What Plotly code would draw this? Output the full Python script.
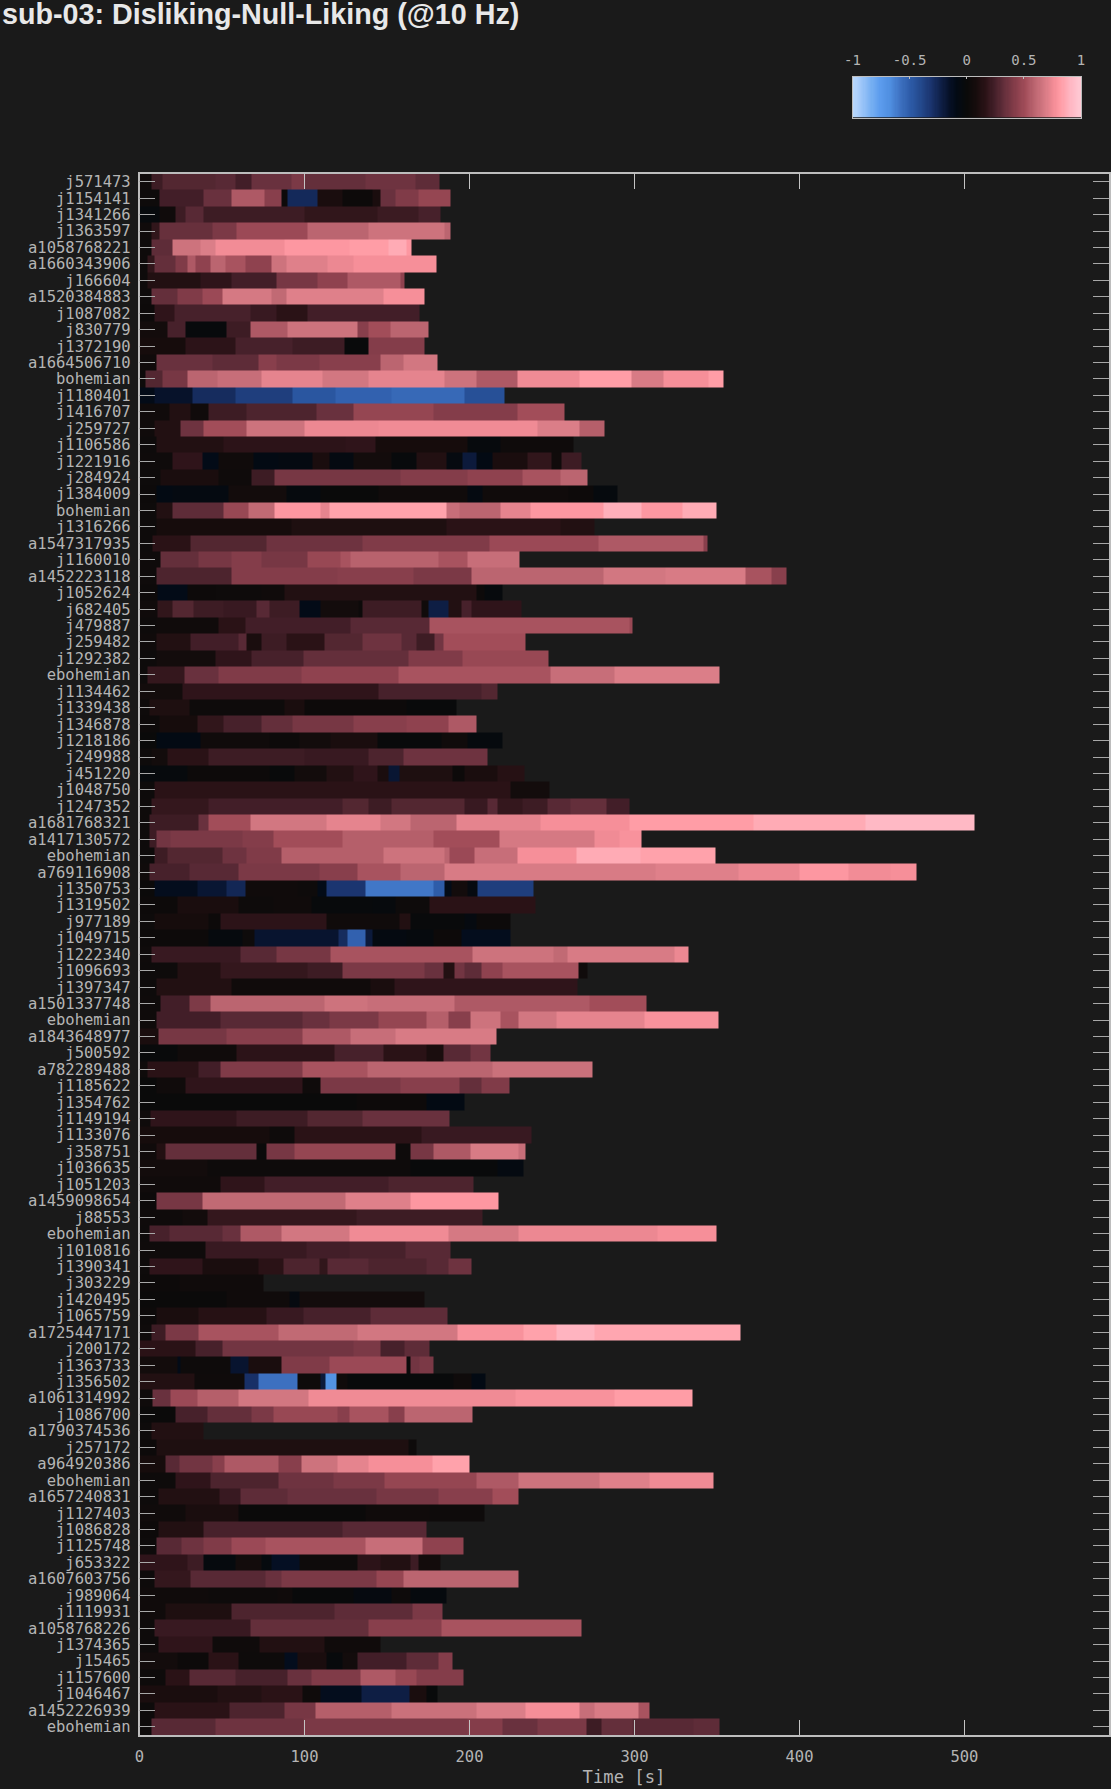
import numpy as np
import plotly.graph_objects as go

song_labels = """j571473 j1154141 j1341266 j1363597 a1058768221 a1660343906 j166604 a1520384883 j1087082 j830779 j1372190 a1664506710 bohemian j1180401 j1416707 j259727 j1106586 j1221916 j284924 j1384009 bohemian j1316266 a1547317935 j1160010 a1452223118 j1052624 j682405 j479887 j259482 j1292382 ebohemian j1134462 j1339438 j1346878 j1218186 j249988 j451220 j1048750 j1247352 a1681768321 a1417130572 ebohemian a769116908 j1350753 j1319502 j977189 j1049715 j1222340 j1096693 j1397347 a1501337748 ebohemian a1843648977 j500592 a782289488 j1185622 j1354762 j1149194 j1133076 j358751 j1036635 j1051203 a1459098654 j88553 ebohemian j1010816 j1390341 j303229 j1420495 j1065759 a1725447171 j200172 j1363733 j1356502 a1061314992 j1086700 a1790374536 j257172 a964920386 ebohemian a1657240831 j1127403 j1086828 j1125748 j653322 a1607603756 j989064 j1119931 a1058768226 j1374365 j15465 j1157600 j1046467 a1452226939 ebohemian""".split()

# Segment end times [s] for each song, top row first
segment_ends = [
 [7,14,46,58,68,92,100,137,167,182],
 [12,39,56,76,86,90,108,123,141,146,155,169,188.5],
 [12,22,28,39,100,144,169,182.5],
 [7,12,44,59,102,139,185,188.6],
 [7,20,37,46,88,127,151,162,165],
 [5,9,22,29,34,43,52,64,80,89,114,130,180],
 [5,37,56,83,108,126,158,160.8],
 [7,23,38,50,80,89,148,173],
 [9,21,67,83,102,169.6],
 [17,28,53,67,90,132,139,152,175],
 [28,58,93,124,139,172.6],
 [10,44,72,83,109,146,160,180.5],
 [3.5,14,29,47.5,74,111,139,185,204,229,266.5,298,317.5,345,354],
 [9,32,58,93,119,153,197,221],
 [18,31,42,65,107,130,178,229,257.7],
 [9,25,39,65,100,145,241,266.5,282],
 [10,51,125,143,199,219,263],
 [20,38,48,69,84,105,115,130,153,168,186,196,204,214,235,250,256,268],
 [13,48,68,82,158,199,232,255,271.4],
 [10,20,54,89,110,145,199,208,260,275,289.5],
 [10,20,51,66,82,110,115,186,194,219,237,281,304,329,350],
 [10,92,186,255,276],
 [8,31,77,135,212,278,342,344],
 [13,36,56,74,102,122,128,181,199,230.6],
 [10,56,120,166,201,281,319,367,383,392],
 [11,29,46,74,88,204,209,220],
 [11,20,33,51,71,79,97,110,133,135,171,175,187.5,195,201.5,231.6],
 [10,48,64,128,175.5,297,299],
 [10,31,60,65,74,89,112,135,159,168,179,184,234],
 [10,46,68,99.5,163,196,248],
 [5,27,48,98,157,249,288,351.5],
 [26,61,145,207,217],
 [6,30,88,100,162,192],
 [12,35,51,74,93,130,162,187,204],
 [10,37,79,97,116,144,183,199,220],
 [7,17,42,100,139,160,211],
 [29,79,94,113.5,130,144,151,157.6,190,197,217,233.6],
 [9,102,225,248.7],
 [7,42,123,139,153,197,211,217,232,247,261,283,297],
 [6,36,42,67,113.5,146,164.5,192,243,297,372,440,506],
 [6,10,18.5,62.5,81,123,178,218,276,291,304.5],
 [9,17,50,65,86,148,185,188,203,229,265,303.6,349],
 [6,30,60,109,132,158,185,313,363,400,430,455,471],
 [9,35,53,64,96,108,113.5,137,178,185,189,199,205,238.7],
 [23,60,81,104,141,155,176,240],
 [9,42,49,113.5,157.6,164.5,197,204,225],
 [42,62.6,69.5,120.5,126,137,141,162,178,195,224.6],
 [7,61,83,116,201.6,251,259.6,324,333],
 [23,49,102,123,173,184,191,197,207,220,266,271.7],
 [10,56,140,154.6,265.5],
 [13,30,43,112,138,191,273,307],
 [10,49,99,115,145,174,187.5,200.6,219,230,253,306,351],
 [11.5,53,99,128,155,216.5],
 [23,59,118,148,174,184,200.6,213],
 [5,36,49,99,138,214,274.7],
 [10,28,99,110,158,194,207,224],
 [131.6,174,197],
 [6.6,59,102,135,187.8],
 [79,94,171,237.5],
 [10,16,71,77,94,155,164,178,200.6,230,234],
 [41,164.5,217,233],
 [49,76,151,202.6],
 [10,38,125,164.5,217.5],
 [26,41,131.6,207.6],
 [6,18,50,61,86,127,187,230,314,350],
 [40,101,127,161,188.7],
 [6,38,72,87.5,109,114,139,174,187,201.4],
 [24,75],
 [53,91,97,173],
 [10,36,77,99.5,140,186.6],
 [7,16,36,84,132,193,232.6,253,276,364],
 [34,50,129.5,146,160.6,176],
 [23,25,55,66,86,115,162,164,170,178],
 [33.6,63.5,72,96,110,113,119.4,126,190.6,201.4,210],
 [8,19,35,60,102.6,228,288,335],
 [21.6,41,68,81.5,120,127,151,160.6,201.7],
 [7,39],
 [10,163,168],
 [15.6,24,44,51.6,84,98,120,139,177.5,200],
 [21.6,43,84,117.5,148.7,204,230,279,309,347.7],
 [11.6,48.7,61,90,143.7,181,214,229.7],
 [28,60,137,176,209],
 [11.6,39,123,173.8],
 [10,25.5,39,55.6,76.5,136.7,171.5,196.3],
 [29,39,58,74,80,97,132,146,164.5,169,182.4],
 [9,31,76.5,86,143.7,160,230],
 [41.7,83.4,92.7,130,153,164.5,186],
 [16,55.6,118,165.7,183.5],
 [9,67,139,183,268],
 [11.6,44,73,112.4,145.8],
 [23,41.7,60,88,96,113.5,123,132,162,181,190],
 [16,30,58,90,104,134,155,168,196.3],
 [47.5,74,98.5,110,134.4,163.4,174,180.8],
 [9,54.5,88,106.6,153,204,234,266.5,276,302.4,309],
 [7,46,99.6,199,220,241,271,280,299,336,351.3],
]

# Rating held during each segment, same shape as segment_ends. These readings were
# taken by eye before the colour ramp was sampled; see reading_scale below.
segment_values = [
 [.05,.2,.28,.3,.22,.36,.44,.34,.38,.32],
 [.03,.22,.36,.62,.5,.02,-.27,.08,.02,.08,.36,.46,.54],
 [-.03,.05,.2,.3,.2,.15,.19,.24],
 [.05,.15,.35,.44,.56,.66,.72,.66],
 [.03,.32,.72,.77,.85,.9,.92,.95,.9],
 [.03,.15,.34,.46,.62,.52,.66,.6,.52,.72,.78,.82,.87],
 [.03,.1,.14,.22,.42,.52,.62,.52],
 [.03,.34,.46,.56,.75,.68,.78,.87],
 [.02,.14,.24,.18,.12,.22],
 [.06,.24,-.02,.2,.62,.72,.5,.58,.66],
 [.07,.13,.24,.2,-.01,.48],
 [.05,.36,.32,.5,.44,.5,.66,.74],
 [.03,.28,.42,.66,.7,.8,.74,.8,.72,.62,.84,.92,.76,.87,.92],
 [-.1,-.16,-.28,-.36,-.47,-.52,-.55,-.44],
 [.05,.1,.05,.2,.26,.36,.54,.48,.58],
 [.05,.1,.38,.58,.72,.82,.84,.77,.64],
 [.03,.1,.13,.14,.07,-.03,.04],
 [.04,.14,-.1,.05,-.08,-.06,.08,-.06,.06,-.02,.1,-.05,-.2,-.08,.08,.15,.05,.2],
 [.03,.08,.04,.2,.42,.48,.52,.6,.66],
 [.02,-.08,-.06,.06,-.04,0,.05,-.06,.05,.02,-.04],
 [.03,.1,.32,.55,.68,.9,.8,.93,.7,.66,.8,.9,.96,.9,.95],
 [.03,.07,.09,.12,.1],
 [.03,.12,.28,.38,.46,.56,.62,.5],
 [.04,.34,.42,.48,.42,.55,.6,.65,.6,.7],
 [.04,.26,.48,.5,.44,.66,.74,.76,.6,.5],
 [.02,-.1,.02,.03,.05,.1,.02,-.03],
 [.05,.15,.28,.2,.18,.3,.2,-.1,.06,.02,.2,.05,-.22,.1,.24,.14],
 [.03,.05,.12,.22,.3,.6,.55],
 [.05,.1,.22,.3,.08,.2,.12,.28,.38,.3,.2,.4,.58],
 [.03,.06,.14,.24,.34,.46,.55],
 [.03,.16,.36,.46,.52,.6,.7,.77],
 [.06,.14,.14,.24,.28],
 [.03,.09,.03,.08,.02,-.01],
 [.02,.07,.15,.24,.34,.42,.5,.52,.62],
 [0,-.08,.05,.02,.06,.08,-.01,.05,-.04],
 [.03,.06,.12,.2,.18,.26,.38],
 [-.03,.02,-.01,.06,.1,.14,.08,-.18,.09,.02,.08,.11],
 [.03,.12,.12,.06],
 [.04,.16,.22,.28,.2,.28,.18,.3,.16,.2,.3,.34,.22],
 [.04,.2,.36,.58,.74,.8,.74,.66,.8,.87,.92,.95,.98],
 [.03,.2,.4,.44,.48,.58,.64,.58,.75,.84,.88],
 [.03,.2,.28,.38,.46,.64,.72,.66,.56,.7,.87,.95,.93],
 [.05,.24,.3,.44,.5,.6,.66,.76,.78,.82,.9,.85,.87],
 [.01,-.12,-.18,-.26,.05,.03,-.1,-.32,-.6,-.5,-.1,.06,-.05,-.36],
 [.02,.08,.03,.05,-.02,-.03,.03,.12],
 [.03,.07,.02,.13,.05,.1,-.01,-.05,.02],
 [.02,-.04,.03,-.17,-.28,-.52,-.2,-.06,-.04,.02,-.12],
 [.04,.18,.3,.42,.6,.72,.68,.76,.82],
 [.03,.1,.16,.2,.44,.36,.1,.4,.32,.52,.6,.05],
 [.03,.1,.05,.08,.14],
 [.04,.22,.45,.66,.72,.7,.62,.58],
 [.04,.22,.3,.36,.44,.54,.64,.5,.72,.6,.74,.8,.88],
 [.08,.42,.5,.62,.7,.76],
 [-.01,.05,.13,.24,.12,.08,.3,.4],
 [.04,.12,.22,.46,.6,.66,.71],
 [0,.05,.14,.04,.44,.5,.34,.46],
 [0,.02,-.08],
 [.04,.14,.2,.28,.36],
 [.07,.03,.12,.18],
 [.05,.1,.34,.01,.42,.54,.03,.42,.62,.76,.7],
 [.06,.03,-.01,-.06],
 [.05,.14,.22,.26],
 [.02,.42,.68,.78,.9],
 [.04,.06,.16,.2],
 [.03,.24,.3,.36,.62,.74,.84,.75,.82,.87],
 [.04,.18,.22,.24,.3],
 [.03,.14,.08,.12,.26,.15,.3,.26,.3,.38],
 [.02,.05],
 [.01,.05,-.05,.06],
 [.02,.08,.11,.18,.24,.32],
 [.04,.2,.44,.6,.68,.74,.88,.93,.97,.94],
 [.12,.24,.4,.44,.24,.32],
 [.06,-.1,.03,-.17,.08,.46,.56,0,.4,.44],
 [.1,.04,-.3,-.58,.03,-.2,-.7,.05,-.01,.04,-.08],
 [.04,.36,.56,.64,.74,.84,.88,.92],
 [.01,.24,.34,.44,.55,.5,.6,.5,.66],
 [.03,.1],
 [.02,.09,.03],
 [.07,.3,.4,.5,.62,.5,.72,.8,.87,.93],
 [.03,.14,.26,.38,.44,.54,.62,.72,.78,.84],
 [.03,.1,.18,.32,.36,.42,.5,.58],
 [.05,.08,.01,.05,.03],
 [.02,.1,.24,.3],
 [.03,.3,.38,.46,.56,.6,.7,.52],
 [.14,.2,-.04,.06,-.04,-.14,.03,.13,.1,.2,.06],
 [.03,.16,.3,.36,.44,.54,.66],
 [.05,.03,.05,-.01,-.05,.03,-.04],
 [.05,.09,.26,.32,.44],
 [.03,.18,.34,.5,.6],
 [.03,.14,.04,.1,.05],
 [.06,.02,.12,.03,-.12,.08,-.02,.06,.22,.32,.48],
 [.03,.12,.3,.24,.36,.46,.62,.55,.48],
 [.08,.1,.12,.04,-.12,-.22,.08,-.01],
 [.03,.12,.26,.42,.64,.71,.77,.86,.7,.76,.6],
 [.03,.3,.38,.44,.48,.36,.44,.2,.34,.3,.32],
]

# Eye readings -> values on the sampled legend ramp (same colours, measured positions)
reading_scale = [-1, 0, .05, .12, .24, .36, .5, .62, .72, .82, .87, .92, .96, 1]
legend_scale = [-1, 0, .04, .16, .25, .34, .43, .55, .65, .74, .77, .82, .88, .95]

colorbar_ticks = [-1, -0.5, 0, 0.5, 1]
colorbar_ramp = [round(-1 + i * 0.01, 2) for i in range(201)]
time_ticks = [0, 100, 200, 300, 400, 500]

BG = "#1a1a1a"
TXT = "#b4b4b4"
LINE = "#bdbdbd"
W, H = 1111, 1789

ramp_stops = [
    (-1.0, "#bcdafd"), (-.96, "#aed0fb"), (-.84, "#78b0f2"), (-.76, "#5c9ced"), (-.67, "#4f8ee0"),
    (-.58, "#3d70c0"), (-.49, "#2c5aa6"), (-.41, "#244a8e"), (-.32, "#1b3570"), (-.23, "#0f2048"),
    (-.15, "#061026"), (-.09, "#020a14"), (0, "#0a0a0a"), (.07, "#150c0c"), (.16, "#2a1216"),
    (.245, "#45202a"), (.33, "#66303c"), (.42, "#853d4a"), (.505, "#a04c58"), (.59, "#bb6570"),
    (.68, "#d67a84"), (.765, "#f58e98"), (.81, "#ff9aa3"), (.855, "#ffa8b2"), (.91, "#ffb8c4"),
    (1.0, "#ffcbd6"),
]
colorscale = [[(v + 1) / 2, c] for v, c in ramp_stops]

# Shared time grid from all segment edges; each cell takes the value of its segment
edges = np.unique(np.concatenate([[0.0]] + [np.asarray(e, float) for e in segment_ends]))
centers = (edges[:-1] + edges[1:]) / 2
z = []
for ends, vals in zip(segment_ends, segment_values):
    idx = np.searchsorted(np.asarray(ends, float), centers)
    cal = np.interp(vals, reading_scale, legend_scale)
    z.append([float(cal[i]) if i < len(cal) else None for i in idx])

fig = go.Figure()
fig.add_trace(go.Heatmap(
    x=edges.tolist(), y=[i - 0.5 for i in range(len(song_labels) + 1)], z=z,
    coloraxis="coloraxis", hoverongaps=False, name="rating",
))
fig.add_trace(go.Heatmap(
    x=colorbar_ramp, y=[0], z=[colorbar_ramp],
    coloraxis="coloraxis", xaxis="x2", yaxis="y2", hoverinfo="skip",
))

tickfont = dict(family="DejaVu Sans Mono", size=15.5, color=TXT)
fig.update_layout(
    template="none",
    width=W, height=H, autosize=False,
    margin=dict(l=0, r=0, t=0, b=0, pad=0, autoexpand=False),
    paper_bgcolor=BG, plot_bgcolor=BG,
    showlegend=False,
    coloraxis=dict(colorscale=colorscale, cmin=-1, cmax=1, showscale=False),
    xaxis=dict(
        domain=[139.5 / W, 1108.5 / W], range=[0, 587.3], automargin=False,
        tickvals=time_ticks, ticks="inside", ticklen=15.5, tickwidth=1.2, tickcolor="#c4c4c4",
        mirror="allticks", showline=True, linecolor=LINE, linewidth=1.5,
        showgrid=False, zeroline=False, tickfont=tickfont, ticklabelstandoff=7,
        title=dict(text="Time [s]", font=dict(family="DejaVu Sans Mono", size=17.2, color=TXT), standoff=6),
    ),
    yaxis=dict(
        domain=[(H - 1735) / H, (H - 173.5) / H], range=[len(song_labels) - 0.5, -0.5], automargin=False,
        tickmode="array", tickvals=list(range(len(song_labels))), ticktext=song_labels,
        ticks="inside", ticklen=15.5, tickwidth=1.2, tickcolor="#a8a8a8",
        mirror="allticks", showline=True, linecolor=LINE, linewidth=1.5,
        showgrid=False, zeroline=False, tickfont=tickfont, ticklabelstandoff=4,
    ),
    xaxis2=dict(
        domain=[852.5 / W, 1081 / W], range=[-1, 1], anchor="y2", side="top", automargin=False,
        tickvals=colorbar_ticks, ticktext=["-1", "-0.5", "0", "0.5", "1"],
        ticks="inside", ticklen=2, tickwidth=1, tickcolor=LINE,
        showline=True, linecolor=LINE, linewidth=1.2, mirror=True,
        showgrid=False, zeroline=False,
        tickfont=dict(family="DejaVu Sans Mono", size=14, color=TXT), ticklabelstandoff=5,
    ),
    yaxis2=dict(
        domain=[(H - 117.5) / H, (H - 76.5) / H], range=[-0.5, 0.5], anchor="x2", automargin=False,
        showticklabels=False, ticks="", showline=True, linecolor=LINE, linewidth=1.2,
        mirror=True, showgrid=False, zeroline=False,
    ),
    title=dict(
        text="sub-03: Disliking-Null-Liking (@10 Hz)",
        font=dict(family="Liberation Sans", size=28.7, weight=700, color="#e8e8e8"),
        x=2 / W, xanchor="left", xref="paper", y=1 - 3.5 / H, yanchor="top", yref="container",
        automargin=False,
    ),
)

fig.write_html(
    "out.html",
    config={"displayModeBar": False},
    post_script="document.body.style.margin='0';document.documentElement.style.background='#1a1a1a';",
)
